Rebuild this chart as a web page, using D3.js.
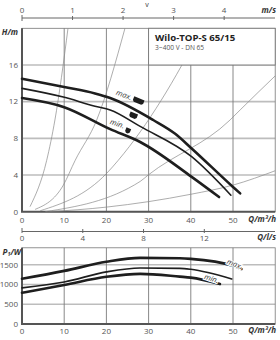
<!DOCTYPE html>
<html>
<head>
<meta charset="utf-8">
<script src="https://cdn.jsdelivr.net/npm/d3@7"></script>
<style>
  html, body { margin: 0; padding: 0; background: #fff; }
  svg { display: block; font-family: "Open Sans", sans-serif; }
</style>
</head>
<body>
<svg id="chart" width="280" height="340"></svg>
<script>
// pump curves H(Q), Q in m3/h, H in m
const headMax = [[0, 14.5], [10, 13.6], [17.3, 12.9], [20.9, 12.4], [31.1, 10.0], [36.3, 8.5], [40.2, 6.9], [50, 2.7], [51.7, 2.0]];
const headMid = [[0, 13.45], [9.8, 12.5], [17.3, 11.5], [20.9, 11.1], [28, 9.3], [40.2, 6.0], [49.5, 1.8]];
const headMin = [[0, 12.4], [10, 11.4], [20.9, 9.0], [28, 7.6], [40.2, 3.8], [46.7, 1.6]];

// thin system curves
const systemCurves = [
  [[1.9, 0.55], [5.85, 5.6], [7.8, 10], [10.9, 20]],
  [[3.1, 0.25], [9.8, 2.9], [12.6, 5.6], [17.7, 10], [24.4, 20]],
  [[4.3, 0.1], [20.1, 4.2], [22.8, 5.6], [28, 8.7], [37.9, 16], [42.5, 20]],
  [[5.5, 0], [28, 3.3], [29.9, 4.0], [49.3, 10], [51.7, 11.1], [60.2, 14.9]],
  [[6.5, 0], [20, 0.5], [30, 1.1], [40, 1.9], [50, 2.9], [60.2, 4.5]],
];

// power curves P1(Q), W
const powerMax = [[0, 1145], [10, 1345], [20, 1575], [28, 1675], [37.4, 1665], [40, 1650], [50, 1475], [52, 1395]];
const powerMid = [[0, 915], [10, 1065], [20, 1320], [28, 1420], [37.4, 1410], [40, 1385], [49.7, 1140]];
const powerMin = [[0, 790], [10, 990], [20, 1195], [28, 1270], [37.4, 1200], [40, 1175], [46.9, 1012]];

const qTicks = [0, 10, 20, 30, 40, 50];
const hTicks = [0, 4, 8, 12, 16];
const pTicks = [0, 500, 1000, 1500];
const vTicks = [0, 1, 2, 3, 4];
const lsTicks = [0, 4, 8, 12];

const svg = d3.select('#chart');

const x = d3.scaleLinear().domain([0, 60]).range([22, 275.2]);
const xv = d3.scaleLinear().domain([0, 5.01]).range([22, 275.2]);
const xls = d3.scaleLinear().domain([0, 60 / 3.6]).range([22, 275.2]);
const y = d3.scaleLinear().domain([0, 20]).range([211.7, 28.3]);
const p = d3.scaleLinear().domain([0, 1930]).range([324, 247.8]);

const tickColor = '#555';
const gridV = '#7a7a7a';
const gridH = '#bdbdbd';

svg.append('defs').append('clipPath').attr('id', 'clipTop').
  append('rect').
  attr('x', x(0)).attr('y', y(20)).
  attr('width', x(60) - x(0)).attr('height', y(0) - y(20));

function grid(g, yScale, yVals, yMax) {
  g.selectAll('.gh').data(yVals.filter(d => d > 0)).enter().append('line').
    attr('x1', x(0)).attr('x2', x(60)).
    attr('y1', d => yScale(d)).attr('y2', d => yScale(d)).
    attr('stroke', gridH).attr('stroke-width', 1.6);
  g.selectAll('.gv').data(qTicks.filter(d => d > 0)).enter().append('line').
    attr('x1', d => x(d)).attr('x2', d => x(d)).
    attr('y1', yScale(0)).attr('y2', yScale(yMax)).
    attr('stroke', gridV).attr('stroke-width', 0.9);
  // frame
  g.append('rect').
    attr('x', x(0)).attr('y', yScale(yMax)).
    attr('width', x(60) - x(0)).attr('height', yScale(0) - yScale(yMax)).
    attr('fill', 'none').attr('stroke', '#777').attr('stroke-width', 0.8);
  g.append('path').
    attr('d', `M${x(0)},${yScale(yMax)}V${yScale(0)}H${x(60)}`).
    attr('fill', 'none').attr('stroke', '#555').attr('stroke-width', 2);
}

// ---------- top chart ----------
const topG = svg.append('g');
grid(topG, y, hTicks, 20);

const lineH = d3.line().x(d => x(d[0])).y(d => y(d[1])).curve(d3.curveMonotoneX);

topG.append('g').attr('clip-path', 'url(#clipTop)').
  selectAll('path').data(systemCurves).enter().append('path').
  attr('d', d => lineH(d)).
  attr('fill', 'none').attr('stroke', '#8a8a8a').attr('stroke-width', 0.7);

const headCurves = [
  { data: headMax, w: 2.6 },
  { data: headMid, w: 1.6 },
  { data: headMin, w: 2.6 },
];
topG.selectAll('.hc').data(headCurves).enter().append('path').
  attr('d', d => lineH(d.data)).
  attr('fill', 'none').attr('stroke', '#1e1e1e').
  attr('stroke-width', d => d.w).attr('stroke-linecap', 'round');

// speed markers
const markers = [
  { q: 27.6, h: 12.1, w: 11 },
  { q: 26.4, h: 10.5, w: 8 },
  { q: 25.1, h: 8.85, w: 5 },
];
topG.selectAll('.mk').data(markers).enter().append('path').
  attr('transform', d => `translate(${x(d.q)},${y(d.h)}) rotate(22)`).
  attr('d', d => `M${-d.w / 2},-2.5H${d.w / 2}V1.2L${d.w / 2 - 1.5},2.8H${-d.w / 2 + 1.5}L${-d.w / 2},1.2Z`).
  attr('fill', '#1e1e1e');

const curveLabelsTop = [
  { t: 'max.', q: 24.2, h: 12.75, r: 20 },
  { t: 'min.', q: 22.6, h: 9.6, r: 19 },
];
topG.selectAll('.cl').data(curveLabelsTop).enter().append('text').
  attr('transform', d => `translate(${x(d.q)},${y(d.h)}) rotate(${d.r})`).
  attr('text-anchor', 'middle').attr('dy', '0.35em').
  attr('font-size', 7.5).attr('font-style', 'italic').attr('fill', '#333').
  attr('stroke', '#fff').attr('stroke-width', 2).attr('paint-order', 'stroke').
  text(d => d.t);

// title box
topG.append('rect').
  attr('x', x(30)).attr('y', y(20)).
  attr('width', x(60) - x(30)).attr('height', y(16) - y(20)).
  attr('fill', '#fff').attr('stroke', '#777').attr('stroke-width', 0.9);
topG.append('text').attr('x', x(30) + 6.5).attr('y', 40.8).
  attr('font-size', 9.6).attr('font-weight', 'bold').attr('fill', '#222').
  text('Wilo-TOP-S 65/15');
topG.append('text').attr('x', x(30) + 6.5).attr('y', 50).
  attr('font-size', 6.6).attr('fill', '#555').
  text('3~400 V - DN 65');

// left ticks H
topG.selectAll('.ht').data(hTicks).enter().append('text').
  attr('x', 18).attr('y', d => y(d)).attr('dy', '0.35em').
  attr('text-anchor', 'end').attr('font-size', 8).attr('fill', tickColor).
  text(d => d);
topG.append('text').attr('x', 18).attr('y', 34.5).attr('text-anchor', 'end').
  attr('font-size', 8).attr('font-style', 'italic').attr('font-weight', 'bold').attr('fill', '#333').
  text('H/m');

// bottom ticks Q
topG.selectAll('.qt').data(qTicks).enter().append('text').
  attr('x', d => x(d)).attr('y', 223).
  attr('text-anchor', 'middle').attr('font-size', 8).attr('fill', tickColor).
  text(d => d);
topG.append('text').attr('x', 276).attr('y', 222).attr('text-anchor', 'end').
  attr('font-size', 8).attr('font-style', 'italic').attr('font-weight', 'bold').attr('fill', '#333').
  text('Q/m³/h');

// velocity axis
const vAxis = svg.append('g');
vAxis.append('line').attr('x1', xv(0)).attr('x2', 275).attr('y1', 18).attr('y2', 18).
  attr('stroke', '#666').attr('stroke-width', 1);
vAxis.selectAll('.vtk').data(vTicks).enter().append('line').
  attr('x1', d => xv(d)).attr('x2', d => xv(d)).
  attr('y1', d => d === 0 ? 15 : 16).attr('y2', d => d === 0 ? 21 : 20).
  attr('stroke', '#666').attr('stroke-width', 1);
vAxis.selectAll('.vt').data(vTicks).enter().append('text').
  attr('x', d => xv(d)).attr('y', 13).
  attr('text-anchor', 'middle').attr('font-size', 8).attr('fill', tickColor).
  text(d => d);
vAxis.append('text').attr('x', 147).attr('y', 6.5).attr('text-anchor', 'middle').
  attr('font-size', 7).attr('fill', '#333').text('v');
vAxis.append('text').attr('x', 276).attr('y', 13).attr('text-anchor', 'end').
  attr('font-size', 8).attr('font-style', 'italic').attr('font-weight', 'bold').attr('fill', '#333').
  text('m/s');

// l/s axis
const lsAxis = svg.append('g');
lsAxis.append('line').attr('x1', xls(0)).attr('x2', 275).attr('y1', 231.5).attr('y2', 231.5).
  attr('stroke', '#666').attr('stroke-width', 1);
lsAxis.selectAll('.ltk').data(lsTicks).enter().append('line').
  attr('x1', d => xls(d)).attr('x2', d => xls(d)).
  attr('y1', d => d === 0 ? 228 : 229).attr('y2', 233).
  attr('stroke', '#666').attr('stroke-width', 1);
lsAxis.selectAll('.lt').data(lsTicks).enter().append('text').
  attr('x', d => xls(d)).attr('y', 240.5).
  attr('text-anchor', 'middle').attr('font-size', 8).attr('fill', tickColor).
  text(d => d);
lsAxis.append('text').attr('x', 276).attr('y', 240).attr('text-anchor', 'end').
  attr('font-size', 8).attr('font-style', 'italic').attr('font-weight', 'bold').attr('fill', '#333').
  text('Q/l/s');

// ---------- bottom chart ----------
const botG = svg.append('g');
grid(botG, p, pTicks, 1930);

const lineP = d3.line().x(d => x(d[0])).y(d => p(d[1])).curve(d3.curveMonotoneX);
const powerCurves = [
  { data: powerMax, w: 2.6 },
  { data: powerMid, w: 1.6 },
  { data: powerMin, w: 2.6 },
];
botG.selectAll('.pc').data(powerCurves).enter().append('path').
  attr('d', d => lineP(d.data)).
  attr('fill', 'none').attr('stroke', '#1e1e1e').
  attr('stroke-width', d => d.w).attr('stroke-linecap', 'round');

const curveLabelsBot = [
  { t: 'max.', q: 50.4, w: 1519, r: 22 },
  { t: 'min.', q: 44.9, w: 1152, r: 18 },
];
botG.selectAll('.cl').data(curveLabelsBot).enter().append('text').
  attr('transform', d => `translate(${x(d.q)},${p(d.w)}) rotate(${d.r})`).
  attr('text-anchor', 'middle').attr('dy', '0.35em').
  attr('font-size', 7.5).attr('font-style', 'italic').attr('fill', '#333').
  attr('stroke', '#fff').attr('stroke-width', 2).attr('paint-order', 'stroke').
  text(d => d.t);

botG.selectAll('.pt').data(pTicks).enter().append('text').
  attr('x', 18).attr('y', d => p(d)).attr('dy', '0.35em').
  attr('text-anchor', 'end').attr('font-size', 8).attr('fill', tickColor).
  text(d => d);
const pLabel = botG.append('text').attr('x', 21).attr('y', 254.5).attr('text-anchor', 'end').
  attr('font-size', 8).attr('font-style', 'italic').attr('font-weight', 'bold').attr('fill', '#333');
pLabel.append('tspan').text('P');
pLabel.append('tspan').attr('font-size', 5.5).attr('dy', 1.5).text('1');
pLabel.append('tspan').attr('dy', -1.5).text('/W');

botG.selectAll('.qt').data(qTicks).enter().append('text').
  attr('x', d => x(d)).attr('y', 334).
  attr('text-anchor', 'middle').attr('font-size', 8).attr('fill', tickColor).
  text(d => d);
botG.append('text').attr('x', 276).attr('y', 333).attr('text-anchor', 'end').
  attr('font-size', 8).attr('font-style', 'italic').attr('font-weight', 'bold').attr('fill', '#333').
  text('Q/m³/h');
</script>
</body>
</html>
